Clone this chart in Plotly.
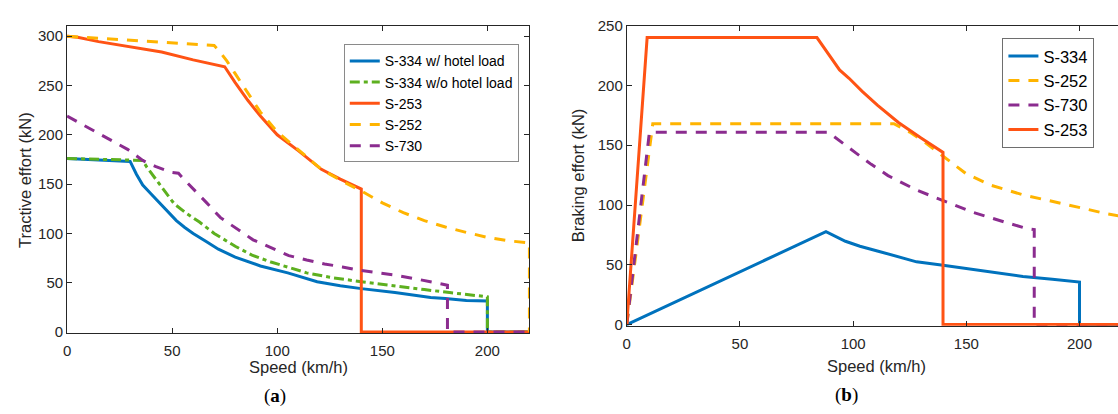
import plotly.graph_objects as go

# ---------------- data: (a) tractive effort ----------------
a_s334_hotel_x = [0, 30, 33, 36, 40, 43, 47, 52, 56, 60, 66, 72, 80, 92, 105, 119, 130, 140, 156, 173, 180, 190, 200, 200, 220]
a_s334_hotel_y = [176, 173, 160, 149, 140, 133, 124, 113, 106, 100, 92, 84, 76, 67, 60, 51, 47, 44, 40, 35, 34, 32, 31.5, 0, 0]

a_s334_nohotel_x = [0, 36, 38, 41, 45, 51, 57, 63, 70, 80, 88, 97, 114, 125, 140, 156, 170, 182, 200, 200, 220]
a_s334_nohotel_y = [176, 174, 167, 158.5, 146, 130, 120, 111.5, 100, 87, 78, 71, 60, 55.5, 51, 46.5, 43, 40, 35.7, 0, 0]

a_s253_x = [0, 5, 15, 30, 45, 60, 75, 80, 86, 92, 100, 110, 121, 130, 140, 140, 220]
a_s253_y = [300, 299, 294.5, 289, 284, 276, 269, 253, 235, 219, 200, 184, 165, 155, 145, 0, 0]

a_s252_x = [0, 20, 40, 60, 70, 72, 76, 80, 86, 92, 100, 110, 121, 130, 140, 150, 160, 170, 180, 190, 200, 210, 220, 220]
a_s252_y = [300, 297.5, 295, 292.5, 290.5, 286, 275, 262, 243, 223, 203, 185, 165, 154, 143, 131, 121, 113, 106.5, 101, 96, 92.5, 90.4, 0]

a_s730_x = [0, 10, 20, 29, 36, 42, 49.5, 53, 56, 60, 66, 73, 80, 88.5, 97, 105.5, 114, 122.5, 131, 139.4, 148, 156, 168, 181, 181, 220]
a_s730_y = [219, 207.5, 195.5, 185, 174, 168, 162, 161, 154, 145.5, 132, 116, 106, 93.5, 85.5, 77.5, 73, 69, 66, 62.5, 60, 57.8, 53, 47.5, 0, 0]

# ---------------- data: (b) braking effort ----------------
b_s334_x = [0, 88, 96.6, 103, 110.7, 120, 128, 139.7, 150, 159.3, 175, 188, 200, 200, 240]
b_s334_y = [0, 77.7, 69.7, 65.5, 61.6, 57, 52.5, 49.6, 46.8, 44.2, 40.2, 38, 35.6, 0, 0]

b_s252_x = [0, 11.5, 118, 125, 132, 140, 150, 161, 175, 194, 212.5, 230]
b_s252_y = [0, 168, 168, 161, 152, 140.5, 126, 116.5, 108.5, 100.5, 92.5, 87]

b_s730_x = [0, 10, 89, 95, 101.3, 108, 115.4, 128, 140.5, 153, 167, 176.5, 180, 180, 240]
b_s730_y = [0, 160.8, 160.8, 152, 143.4, 134, 124.6, 112.5, 103, 93.8, 85.7, 80.4, 79.5, 0, 0]

b_s253_x = [0, 9, 84, 87, 90.4, 94, 98.2, 104, 110.7, 120, 130, 139.7, 139.7, 240]
b_s253_y = [0, 240, 240, 232, 222, 213, 206, 195, 183.5, 169, 156, 144, 0, 0]

x_ticks = [0, 50, 100, 150, 200]
a_y_ticks = [0, 50, 100, 150, 200, 250, 300]
b_y_ticks = [0, 50, 100, 150, 200, 250]

# ---------------- styles ----------------
BLUE = "#0072BD"
GREEN = "#5DB01F"
RED = "#FF5314"
YELLOW = "#FFB400"
PURPLE = "#8B2C8F"
DASH = "11px,9px"
DASHDOT = "10px,4px,4px,4px"
LW = 3
FONT = "Liberation Sans, Arial, sans-serif"
TXT = "#262626"

fig = go.Figure()

def add(x, y, name, color, dash, xa, ya, legend):
    fig.add_trace(go.Scatter(x=x, y=y, name=name, mode="lines",
                             line=dict(color=color, width=LW, dash=dash),
                             xaxis=xa, yaxis=ya, legend=legend))

add(a_s334_hotel_x, a_s334_hotel_y, "S-334 w/ hotel load", BLUE, "solid", "x", "y", "legend")
add(a_s334_nohotel_x, a_s334_nohotel_y, "S-334 w/o hotel load", GREEN, DASHDOT, "x", "y", "legend")
add(a_s253_x, a_s253_y, "S-253", RED, "solid", "x", "y", "legend")
add(a_s252_x, a_s252_y, "S-252", YELLOW, DASH, "x", "y", "legend")
add(a_s730_x, a_s730_y, "S-730", PURPLE, DASH, "x", "y", "legend")

add(b_s334_x, b_s334_y, "S-334", BLUE, "solid", "x2", "y2", "legend2")
add(b_s252_x, b_s252_y, "S-252", YELLOW, DASH, "x2", "y2", "legend2")
add(b_s730_x, b_s730_y, "S-730", PURPLE, DASH, "x2", "y2", "legend2")
add(b_s253_x, b_s253_y, "S-253", RED, "solid", "x2", "y2", "legend2")

W, H = 1118, 414

axis_common = dict(showgrid=False, zeroline=False, showline=True, linecolor=TXT, linewidth=1,
                   ticks="inside", ticklen=5, tickwidth=1, tickcolor=TXT,
                   tickfont=dict(family=FONT, size=15, color=TXT))

fig.update_layout(
    width=W, height=H,
    margin=dict(l=0, r=0, t=0, b=0),
    paper_bgcolor="white", plot_bgcolor="white",
    xaxis=dict(domain=[63.3 / W, 527.3 / W], range=[0, 220], tickvals=x_ticks,
               mirror="ticks", anchor="y", ticklabelstandoff=4, **axis_common),
    yaxis=dict(domain=[1 - 337.03 / H, 1 - 17.3 / H], range=[-1, 310.7], tickvals=a_y_ticks,
               mirror="ticks", anchor="x", **axis_common),
    xaxis2=dict(domain=[625 / W, 1.0], range=[0, 217], tickvals=x_ticks,
                mirror="ticks", anchor="y2", ticklabelstandoff=4, **axis_common),
    yaxis2=dict(domain=[1 - 329.54 / H, 1 - 17.3 / H], range=[-1, 250], tickvals=b_y_ticks,
                mirror=False, anchor="x2", **axis_common),
    legend=dict(x=341 / W, y=1 - 36.7 / H, xanchor="left", yanchor="top",
                font=dict(family=FONT, size=14, color="black"),
                bgcolor="white", bordercolor="#8a8a8a", borderwidth=1),
    legend2=dict(x=1002 / W, y=1 - 30 / H, xanchor="left", yanchor="top",
                 font=dict(family=FONT, size=16.5, color="black"),
                 bgcolor="white", bordercolor="#6e6e6e", borderwidth=1),
    showlegend=True,
)

def ann(text, x, y, size, angle=0, family=FONT, color=TXT):
    fig.add_annotation(text=text, x=x / W, y=1 - y / H, xref="paper", yref="paper",
                       showarrow=False, xanchor="center", yanchor="middle", textangle=angle,
                       font=dict(family=family, size=size, color=color))

ann("Speed (km/h)", 295.7, 372, 16.5)
ann("Speed (km/h)", 875.9, 371, 16.5)
ann("Tractive effort (kN)", 20.4, 177.5, 16.5, angle=-90)
ann("Braking effort (kN)", 576, 173, 16.5, angle=-90)
ann("(<b>a</b>)", 271.5, 403, 19, family="Liberation Serif, serif", color="black")
ann("(<b>b</b>)", 845.8, 401.7, 19, family="Liberation Serif, serif", color="black")

fig.write_html("out.html", config={"displayModeBar": False},
               post_script="document.body.style.margin='0px';document.body.style.overflow='hidden';")
